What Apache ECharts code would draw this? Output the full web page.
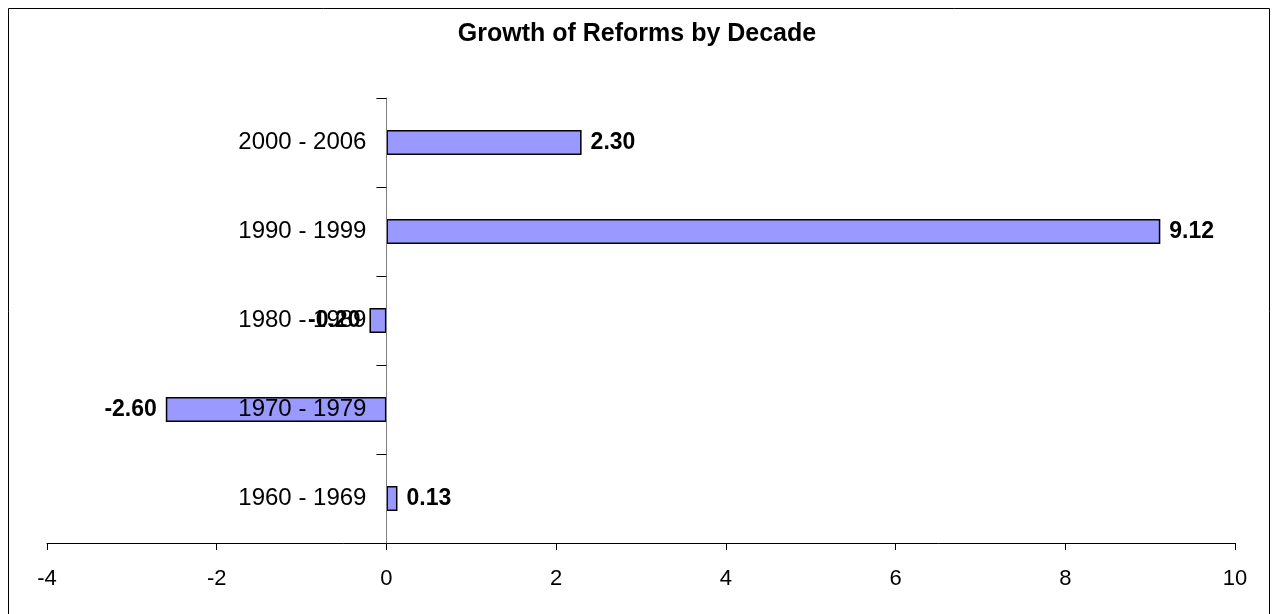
<!DOCTYPE html>
<html>
<head>
<meta charset="utf-8">
<script src="https://cdn.jsdelivr.net/npm/echarts@6/dist/echarts.min.js"></script>
<style>
html,body{margin:0;padding:0;background:#fff;}
#c{width:1274px;height:614px;}
</style>
</head>
<body>
<div id="c"></div>
<script>
var categories = ['1960 - 1969', '1970 - 1979', '1980 - 1989', '1990 - 1999', '2000 - 2006'];
var values = [0.13, -2.60, -0.20, 9.12, 2.30];
var xTicks = [-4, -2, 0, 2, 4, 6, 8, 10];

var chart = echarts.init(document.getElementById('c'));
var font = 'Liberation Sans, Arial, sans-serif';
var gridLeft = 47, gridRight = 39, width = 1274;
var xMin = xTicks[0], xMax = xTicks[xTicks.length - 1];
var plotW = width - gridLeft - gridRight;
var zeroOffset = (0 - xMin) / (xMax - xMin) * plotW;

chart.setOption({
  animation: false,
  backgroundColor: '#fff',
  title: {
    text: 'Growth of Reforms by Decade',
    left: 'center',
    top: 17,
    textStyle: {fontFamily: font, fontWeight: 'bold', fontSize: 25, color: '#000'}
  },
  graphic: [{
    type: 'rect',
    shape: {x: 8.5, y: 8.5, width: 1261, height: 640},
    style: {fill: 'none', stroke: '#000', lineWidth: 1},
    silent: true
  }],
  grid: {left: gridLeft, right: gridRight, top: 98, bottom: 71, containLabel: false, outerBoundsMode: 'none'},
  xAxis: {
    type: 'value',
    min: xMin,
    max: xMax,
    interval: 2,
    splitLine: {show: false},
    axisLine: {show: true, onZero: false, lineStyle: {color: '#000', width: 1}},
    axisTick: {show: true, length: 7, lineStyle: {color: '#000'}},
    axisLabel: {fontFamily: font, fontSize: 22, color: '#000', margin: 25}
  },
  yAxis: {
    type: 'category',
    data: categories,
    offset: -zeroOffset,
    z: 5,
    axisLine: {show: true, onZero: false, lineStyle: {color: '#808080', width: 1}},
    axisTick: {show: true, length: 10, lineStyle: {color: '#000'}},
    axisLabel: {fontFamily: font, fontSize: 24, color: '#000', margin: 20},
    splitLine: {show: false}
  },
  series: [{
    type: 'bar',
    z: 2,
    data: values.map(function (v) {
      return {
        value: v,
        label: {position: v >= 0 ? 'right' : 'left'}
      };
    }),
    barWidth: 25,
    itemStyle: {color: '#9999FF', borderColor: '#000', borderWidth: 1.5},
    label: {
      show: true,
      distance: 9,
      fontFamily: font,
      fontSize: 23,
      fontWeight: 'bold',
      color: '#000',
      formatter: function (p) { return p.value.toFixed(2); }
    }
  }]
});
</script>
</body>
</html>
